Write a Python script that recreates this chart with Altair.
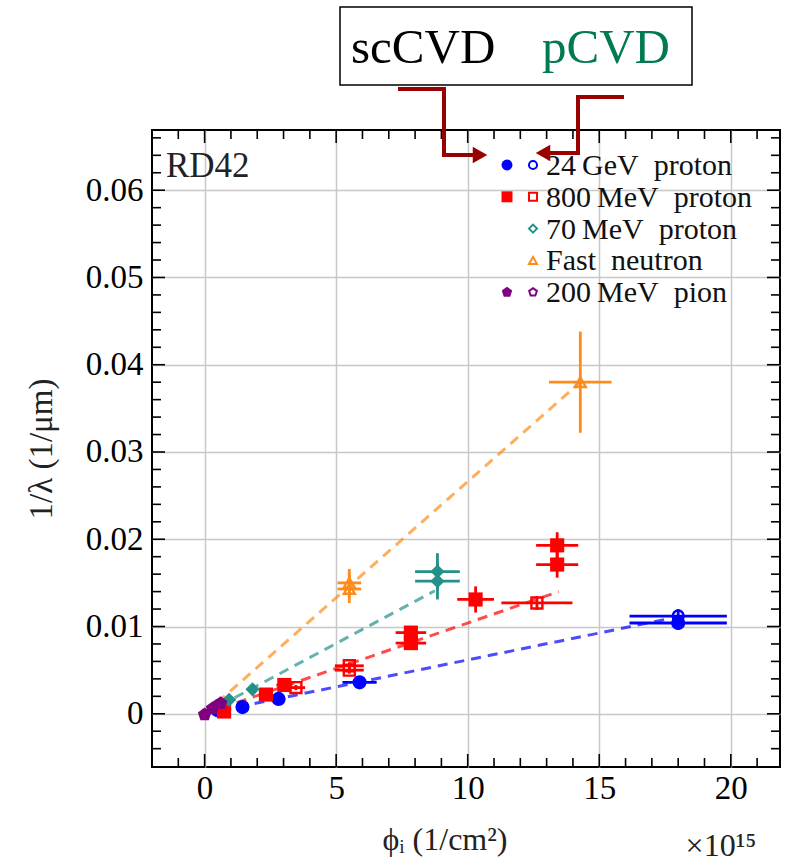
import altair as alt
import pandas as pd

# ---------------- data ----------------
# phi in units of 1e15 / cm^2, 1/lambda in 1/um
# each point: (phi, inv_lambda, x_error, y_error, filled)
P24GEV = [(0.50, 0.0004, 0.05, 0.0001, True), (1.44, 0.00077, 0.15, 0.0002, True),
          (2.81, 0.0017, 0.25, 0.0003, True), (5.89, 0.0036, 0.65, 0.0004, True),
          (18.0, 0.0104, 1.85, 0.0008, True), (18.0, 0.0112, 1.85, 0.0008, False)]
P800MEV = [(0.74, 0.00026, 0.08, 0.0002, True), (2.33, 0.0022, 0.25, 0.0003, True),
           (3.03, 0.0033, 0.30, 0.0004, True), (3.47, 0.0030, 0.35, 0.0003, False),
           (5.50, 0.0055, 0.55, 0.0004, False), (5.50, 0.0050, 0.55, 0.0004, False),
           (7.84, 0.0093, 0.58, 0.0006, True), (7.84, 0.0081, 0.58, 0.0006, True),
           (10.3, 0.0131, 0.70, 0.0015, True), (12.63, 0.0127, 1.35, 0.0008, False),
           (13.4, 0.0193, 0.80, 0.0015, True), (13.4, 0.0171, 0.80, 0.0015, True)]
P70MEV = [(0.93, 0.0016, 0.10, 0.0003, True), (1.82, 0.0028, 0.18, 0.0003, True),
          (8.85, 0.0163, 0.85, 0.0021, True), (8.85, 0.0152, 0.85, 0.0021, True)]
NFAST = [(5.50, 0.0150, 0.45, 0.0016, False), (5.50, 0.0143, 0.45, 0.0016, False),
         (14.28, 0.0380, 1.19, 0.0058, False)]
PION = [(0.00, -0.0001, 0.03, 0.0002, True), (0.30, 0.0006, 0.03, 0.0002, True),
        (0.61, 0.0012, 0.06, 0.0002, True), (0.45, 0.0009, 0.05, 0.0002, False)]

# dashed linear fits: (x0, y0, x1, y1)
FIT_24GEV = (0.0, 0.0, 17.5, 0.0108)
FIT_800MEV = (0.0, 0.0, 13.46, 0.0140)
FIT_70MEV = (0.0, 0.0, 8.75, 0.0141)
FIT_NFAST = (0.0, 0.0, 14.28, 0.0380)

SERIES = ["24 GeV proton", "800 MeV proton", "70 MeV proton", "Fast neutron", "200 MeV pion"]
COLORS = ["#0000ff", "#ff0000", "#23908a", "#ff8c1a", "#800080"]
PENTAGON = "M0,-1L0.951,-0.309L0.588,0.809L-0.588,0.809L-0.951,-0.309Z"
SHAPES = ["circle", "square", "diamond", "triangle-up", PENTAGON]
LEGEND_LABELS = ["24\u2009GeV\u2002proton", "800\u2009MeV\u2002proton", "70\u2009MeV\u2002proton",
                 "Fast\u2002neutron", "200\u2009MeV\u2002pion"]
LEGEND_FILLED = [True, True, False, False, True]

X_MAJOR = [0, 5, 10, 15, 20]
Y_MAJOR = [0.0, 0.01, 0.02, 0.03, 0.04, 0.05, 0.06]

SERIF = "Liberation Serif"
W, H = 628, 637

# ---------------- tables ----------------
rows = []
for name, col, shp, pts in zip(SERIES, COLORS, SHAPES, [P24GEV, P800MEV, P70MEV, NFAST, PION]):
    for (x, y, xe, ye, f) in pts:
        rows.append(dict(series=name, color=col, shape=shp, x=x, y=y,
                         xlo=x - xe, xhi=x + xe, ylo=y - ye, yhi=y + ye, filled=f))
df = pd.DataFrame(rows)

fits = []
for name, col, fit in zip(SERIES[:4], COLORS[:4], [FIT_24GEV, FIT_800MEV, FIT_70MEV, FIT_NFAST]):
    fits.append(dict(series=name, color=col, x=fit[0], y=fit[1]))
    fits.append(dict(series=name, color=col, x=fit[2], y=fit[3]))
dfit = pd.DataFrame(fits)

xs = alt.Scale(domain=[-2, 21.87], nice=False, zero=False)
ys = alt.Scale(domain=[-0.0061, 0.0669], nice=False, zero=False)

xaxis = alt.Axis(values=X_MAJOR, title=None, grid=True, gridColor="#c8c8c8", gridWidth=1.5,
                 ticks=False, domain=False, labelFont=SERIF, labelFontSize=33, labelColor="black",
                 labelPadding=5, labelFlush=False)
yaxis = alt.Axis(values=Y_MAJOR, format=".2~f", title="1/λ (1/μm)", titleFont=SERIF,
                 titleFontSize=33, titleFontWeight="normal", titleColor="#222", titlePadding=27,
                 grid=True, gridColor="#c8c8c8", gridWidth=1.5, ticks=False, domain=False,
                 labelFont=SERIF, labelFontSize=33, labelColor="black", labelPadding=9,
                 labelFlush=False)


def X(f):
    return alt.X(f, type="quantitative", scale=xs, axis=xaxis)


def Y(f):
    return alt.Y(f, type="quantitative", scale=ys, axis=yaxis)


colscale = alt.Color("color:N", scale=None)
shpscale = alt.Shape("shape:N", scale=None)

fit_layer = alt.Chart(dfit).mark_line(strokeDash=[10, 7], strokeWidth=3, opacity=0.7, clip=True).encode(
    x=X("x"), y=Y("y"), color=colscale, detail="series:N")

xerr = alt.Chart(df).mark_rule(strokeWidth=2.8, clip=True).encode(
    x=X("xlo"), x2="xhi", y=Y("y"), color=colscale)
yerr = alt.Chart(df).mark_rule(strokeWidth=2.8, clip=True).encode(
    x=X("x"), y=Y("ylo"), y2="yhi", color=colscale)

pts_filled = alt.Chart(df).transform_filter("datum.filled").mark_point(
    filled=True, opacity=1, size=200, clip=True).encode(
    x=X("x"), y=Y("y"), color=colscale, shape=shpscale)
pts_open = alt.Chart(df).transform_filter("!datum.filled").mark_point(
    filled=False, opacity=1, size=120, strokeWidth=2.4, clip=True).encode(
    x=X("x"), y=Y("y"), color=colscale, shape=shpscale)

# ---------- inward ticks on all four sides ----------
x_minor = [v for v in range(-1, 22) if v % 5 != 0]
y_minor = [round(-0.004 + 0.002 * i, 3) for i in range(36)]
y_minor = [v for v in y_minor if round(v * 1000) % 10 != 0 and v < 0.0669]
dxm = pd.DataFrame({"v": X_MAJOR})
dxn = pd.DataFrame({"v": x_minor})
dym = pd.DataFrame({"v": Y_MAJOR})
dyn = pd.DataFrame({"v": y_minor})

tick_layers = []
for d, ln in [(dxm, 13), (dxn, 9)]:
    tick_layers.append(alt.Chart(d).mark_rule(color="black", strokeWidth=1.6).encode(
        x=X("v"), y=alt.value(H), y2=alt.value(H - ln)))
    tick_layers.append(alt.Chart(d).mark_rule(color="black", strokeWidth=1.6).encode(
        x=X("v"), y=alt.value(0), y2=alt.value(ln)))
for d, ln in [(dym, 13), (dyn, 9)]:
    tick_layers.append(alt.Chart(d).mark_rule(color="black", strokeWidth=1.6).encode(
        y=Y("v"), x=alt.value(0), x2=alt.value(ln)))
    tick_layers.append(alt.Chart(d).mark_rule(color="black", strokeWidth=1.6).encode(
        y=Y("v"), x=alt.value(W), x2=alt.value(W - ln)))

one = pd.DataFrame({"a": [0]})

# ---------- legend (custom, two symbols per row) ----------
legend_layers = []
for i, (lab, col, shp, fl) in enumerate(zip(LEGEND_LABELS, COLORS, SHAPES, LEGEND_FILLED)):
    yy = 35 + i * 31.8
    if fl:
        legend_layers.append(alt.Chart(one).mark_point(filled=True, opacity=1, size=120, color=col,
                                                       shape=shp).encode(x=alt.value(355), y=alt.value(yy)))
    legend_layers.append(alt.Chart(one).mark_point(filled=False, opacity=1, size=65, strokeWidth=2,
                                                   color=col, shape=shp).encode(x=alt.value(381), y=alt.value(yy)))
    legend_layers.append(alt.Chart(one).mark_text(text=lab, font=SERIF, fontSize=30, align="left",
                                                  baseline="middle", color="#111").encode(
        x=alt.value(394), y=alt.value(yy + 1)))

rd42 = alt.Chart(one).mark_text(text="RD42", font=SERIF, fontSize=35, align="left",
                                baseline="alphabetic", color="#222").encode(x=alt.value(14), y=alt.value(47))

xtitle = alt.Chart(one).mark_text(text="ϕᵢ (1/cm²)", font=SERIF, fontSize=32, fontStyle="normal",
                                  align="center", baseline="alphabetic", color="#222").encode(
    x=alt.value(293), y=alt.value(720))
xexp = alt.Chart(one).mark_text(text="×10¹⁵", font=SERIF, fontSize=32, align="center",
                                baseline="alphabetic", color="#222").encode(x=alt.value(569), y=alt.value(726))

# ---------- annotation above the plot ----------
box = alt.Chart(one).mark_rect(fill="white", stroke="black", strokeWidth=1.5).encode(
    x=alt.value(188), x2=alt.value(540), y=alt.value(-123), y2=alt.value(-45))
sc_txt = alt.Chart(one).mark_text(text="scCVD", font=SERIF, fontSize=49, align="left",
                                  baseline="alphabetic", color="black").encode(x=alt.value(199), y=alt.value(-67))
p_txt = alt.Chart(one).mark_text(text="pCVD", font=SERIF, fontSize=49, align="left",
                                 baseline="alphabetic", color="#007a52").encode(x=alt.value(390), y=alt.value(-67))

AR = "#990000"
segs = [(248, 292, -41, -41), (292, 292, -41, 25), (292, 322, 25, 25),
        (470, 426, -33, -33), (426, 426, -33, 23), (426, 398, 23, 23)]
arrow_layers = []
for (a, b, c, d) in segs:
    arrow_layers.append(alt.Chart(one).mark_rule(color=AR, strokeWidth=4, strokeCap="square").encode(
        x=alt.value(a), x2=alt.value(b), y=alt.value(c), y2=alt.value(d)))
arrow_layers.append(alt.Chart(one).mark_point(shape="triangle-right", filled=True, opacity=1, size=280,
                                              color=AR).encode(x=alt.value(328), y=alt.value(25)))
arrow_layers.append(alt.Chart(one).mark_point(shape="triangle-left", filled=True, opacity=1, size=280,
                                              color=AR).encode(x=alt.value(391), y=alt.value(23)))

chart = alt.layer(
    fit_layer, xerr, yerr, pts_open, pts_filled, *tick_layers, *legend_layers, rd42, xtitle, xexp,
    box, sc_txt, p_txt, *arrow_layers
).properties(
    width=W, height=H,
    autosize=alt.AutoSizeParams(type="none"),
    padding={"left": 152, "top": 130, "right": 8, "bottom": 100},
    background="white",
).configure_view(stroke="black", strokeWidth=2)

chart.save("out.html", embed_options={"renderer": "svg", "actions": False})
